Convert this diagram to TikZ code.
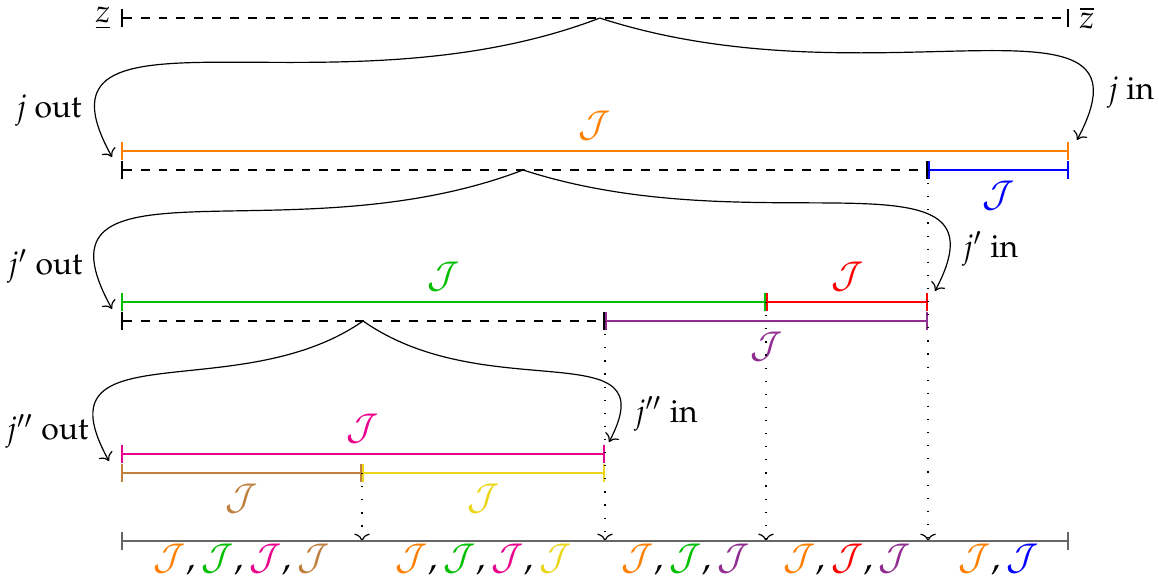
\documentclass[tikz,border=0pt]{standalone}
\usepackage[T1]{fontenc}
\usepackage{mathpazo}
\usepackage{xcolor}
\usepackage{amsmath}
\usepackage{tikz}
\usetikzlibrary{arrows.meta,positioning}
\definecolor{mygreen}{RGB}{0,190,0}
\definecolor{mypink}{RGB}{235,0,140}
\definecolor{mypurple}{RGB}{145,45,145}
\definecolor{mybrown}{RGB}{191,128,64}
\definecolor{myyellow}{RGB}{235,215,25}
\newcommand{\cJ}[1]{{\color{#1}\mathcal{J}}}

\begin{document}
\begin{tikzpicture}[font=\fontsize{10.7}{13}\selectfont,ivl/.style={|-|,thick},
  jlab/.style={font=\fontsize{12}{14}\selectfont}]
\useasboundingbox (-1.428,-0.484) rectangle (12.248,6.384);
% end points of the intervals
\coordinate (z0) at (0,6.171);
\coordinate (z1) at (11.186,6.171);
\coordinate (o0) at (0,4.602);
\coordinate (o1) at (11.186,4.602);
\coordinate (d0) at (0,4.378);
\coordinate (d1) at (9.523,4.378);
\coordinate (b1) at (11.186,4.378);
\coordinate (g0) at (0,2.820);
\coordinate (g1) at (7.611,2.820);
\coordinate (r1) at (9.523,2.820);
\coordinate (e0) at (0,2.596);
\coordinate (e1) at (5.711,2.596);
\coordinate (p1) at (9.523,2.596);
\coordinate (m0) at (0,1.027);
\coordinate (m1) at (5.711,1.027);
\coordinate (n0) at (0,0.802);
\coordinate (n1) at (2.844,0.802);
\coordinate (y1) at (5.711,0.802);
\coordinate (a0) at (0,0);
\coordinate (a1) at (2.844,0);
\coordinate (a2) at (5.711,0);
\coordinate (a3) at (7.611,0);
\coordinate (a4) at (9.523,0);
\coordinate (a5) at (11.186,0);
% split points and arrow ends
\coordinate (c0) at (5.650,6.171);
\coordinate (c1) at (4.744,4.378);
\coordinate (c2) at (2.856,2.596);
\coordinate (t0l) at (-0.106,4.531);
\coordinate (t0r) at (11.281,4.732);
\coordinate (t1l) at (-0.106,2.738);
\coordinate (t1r) at (9.605,2.950);
\coordinate (t2l) at (-0.142,0.944);
\coordinate (t2r) at (5.758,1.168);

% top
\draw[ivl,dashed] (z0) -- (z1);
\node[left] (zlo) at (z0) {$\underline{z}$};
\node[right] (zhi) at (z1) {$\overline{z}$};
\draw[->] (c0) to[out=-159,in=119,out distance=3.40cm,in distance=2.30cm] (t0l);
\draw[->] (c0) to[out=-18,in=62,out distance=3.42cm,in distance=2.20cm] (t0r);
\node[anchor=base east] (jout) at (-0.342,5.003) {$j$ out};
\node[anchor=base west] (jin) at (11.517,5.204) {$j$ in};

% first split
\draw[ivl,orange] (o0) -- node[above,jlab] (jo) {$\mathcal{J}$} (o1);
\draw[ivl,dashed] (d0) -- (d1);
\draw[ivl,blue] (d1) -- node[below,jlab] (jb) {$\mathcal{J}$} (b1);
\draw[->] (c1) to[out=-159,in=119,out distance=2.95cm,in distance=2.2cm] (t1l);
\draw[->] (c1) to[out=-18,in=62,out distance=2.95cm,in distance=2.0cm] (t1r);
\node[anchor=base east] (j1out) at (-0.330,3.139) {$j'$ out};
\node[anchor=base west] (j1in) at (9.806,3.351) {$j'$ in};

% second split
\draw[ivl,mygreen] (g0) -- node[above,jlab] (jg) {$\mathcal{J}$} (g1);
\draw[ivl,red] (g1) -- node[above,jlab] (jr) {$\mathcal{J}$} (r1);
\draw[ivl,dashed] (e0) -- (e1);
\draw[ivl,mypurple] (e1) -- node[below,jlab] (jp) {$\mathcal{J}$} (p1);
\draw[->] (c2) to[out=-145,in=119,out distance=1.8cm,in distance=1.8cm] (t2l);
\draw[->] (c2) to[out=-35,in=62,out distance=1.8cm,in distance=1.5cm] (t2r);
\node[anchor=base east] (j2out) at (-0.260,1.192) {$j''$ out};
\node[anchor=base west] (j2in) at (5.935,1.404) {$j''$ in};

% third split
\draw[ivl,mypink] (m0) -- node[above,jlab] (jm) {$\mathcal{J}$} (m1);
\draw[ivl,mybrown] (n0) -- node[below,jlab] (jn) {$\mathcal{J}$} (n1);
\draw[ivl,myyellow] (n1) -- node[below,jlab] (jy) {$\mathcal{J}$} (y1);

% projections
\draw[loosely dotted,->] (d1) -- (a4);
\draw[loosely dotted,->] (g1) -- (a3);
\draw[loosely dotted,->] (e1) -- (a2);
\draw[loosely dotted,->] (n1) -- (a1);

% bottom axis
\draw[ivl,black!60] (a0) -- (a5);
\path (a0) -- node[below,jlab,inner sep=1pt] (s1) {$\cJ{orange}, \cJ{mygreen}, \cJ{mypink}, \cJ{mybrown}$} (a1);
\path (a1) -- node[below,jlab,inner sep=1pt] (s2) {$\cJ{orange}, \cJ{mygreen}, \cJ{mypink}, \cJ{myyellow}$} (a2);
\path (a2) -- node[below,jlab,inner sep=1pt] (s3) {$\cJ{orange}, \cJ{mygreen}, \cJ{mypurple}$} (a3);
\path (a3) -- node[below,jlab,inner sep=1pt] (s4) {$\cJ{orange}, \cJ{red}, \cJ{mypurple}$} (a4);
\path (a4) -- node[below,jlab,inner sep=1pt] (s5) {$\cJ{orange}, \cJ{blue}$} (a5);
\end{tikzpicture}
\end{document}
